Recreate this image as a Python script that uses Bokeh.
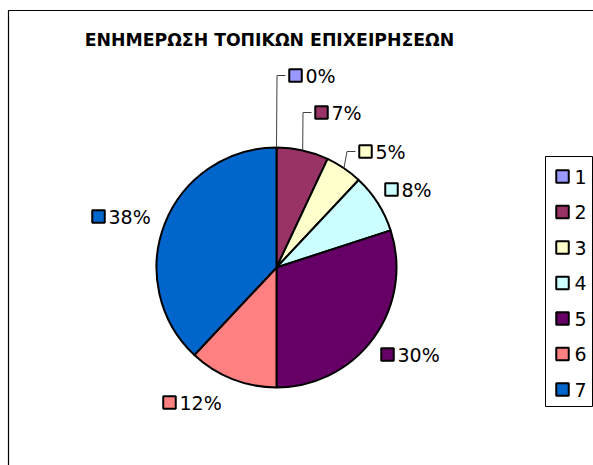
import math
from bokeh.plotting import figure
from bokeh.models import Range1d
from bokeh.core.properties import value
from bokeh.embed import file_html
from bokeh.resources import INLINE

# ---- data ----
title = "ΕΝΗΜΕΡΩΣΗ ΤΟΠΙΚΩΝ ΕΠΙΧΕΙΡΗΣΕΩΝ"
categories = ["1", "2", "3", "4", "5", "6", "7"]
shares = [0, 7, 5, 8, 30, 12, 38]
colors = ["#9999FF", "#993366", "#FFFFCC", "#CCFFFF", "#660066", "#FF8080", "#0066CC"]

# ---- layout (screen pixel coordinates) ----
W, H = 593, 465


def X(px):
    return px


def Y(py):
    return H - py


CX, CY, R = X(276), Y(267), 120
label_pos = [(295, 75), (321, 112), (365, 151), (391, 189), (387, 354), (169, 402), (98, 216)]
has_leader = [True, True, True, False, False, False, False]
FONT = value("DejaVu Sans")

p = figure(width=W, height=H, x_range=Range1d(0, W), y_range=Range1d(0, H),
           output_backend="svg", toolbar_location=None, min_border=0)
p.axis.visible = False
p.grid.visible = False
p.outline_line_color = None
p.background_fill_color = "white"
p.border_fill_color = "white"

# chart-area frame (extends beyond window)
p.line([X(8), X(8), W], [0, Y(10), Y(10)], line_color="black", line_width=1.2)

# title
p.text([X(269)], [Y(39)], text=[title], text_font=FONT, text_font_style="bold",
       text_font_size=value("17.3px"), text_align="center", text_baseline="middle",
       text_color="black")

# pie
total = sum(shares)
cum = 0
starts, ends, mids = [], [], []
for v in shares:
    a0 = math.pi / 2 - 2 * math.pi * cum / total
    cum += v
    a1 = math.pi / 2 - 2 * math.pi * cum / total
    starts.append(a0)
    ends.append(a1)
    mids.append((a0 + a1) / 2)

idx = [i for i, v in enumerate(shares) if v > 0]
p.wedge(x=[CX] * len(idx), y=[CY] * len(idx), radius=R,
        start_angle=[starts[i] for i in idx], end_angle=[ends[i] for i in idx],
        direction="clock", fill_color=[colors[i] for i in idx],
        line_color="black", line_width=2)

# data labels
for i, v in enumerate(shares):
    mx, my = label_pos[i]
    if has_leader[i]:
        sx = CX + R * math.cos(mids[i])
        sy = CY + R * math.sin(mids[i])
        ex = X(mx - 6.5 - 3.5)
        elx = X(mx - 6.5 - 12)
        p.line([sx, max(sx, elx) if i < 2 else elx, ex], [sy, Y(my), Y(my)],
               line_color="#404040", line_width=1)
    p.rect([X(mx)], [Y(my)], width=12.5, height=12.5, fill_color=colors[i],
           line_color="black", line_width=2)
    p.text([X(mx + 10)], [Y(my)], text=[f"{v}%"], text_font=FONT,
           text_font_size=value("19px"), text_baseline="middle", text_color="black")

# legend
p.quad(left=[X(545)], right=[X(592)], top=[Y(156)], bottom=[Y(406)],
       fill_color="white", line_color="black", line_width=1)
for i, c in enumerate(categories):
    ly = 176 + 35.5 * i
    p.rect([X(562)], [Y(ly)], width=12.5, height=12.5, fill_color=colors[i],
           line_color="black", line_width=2)
    p.text([X(574)], [Y(ly)], text=[c], text_font=FONT,
           text_font_size=value("19px"), text_baseline="middle", text_color="black")

open("out.html", "w").write(file_html(p, INLINE))
